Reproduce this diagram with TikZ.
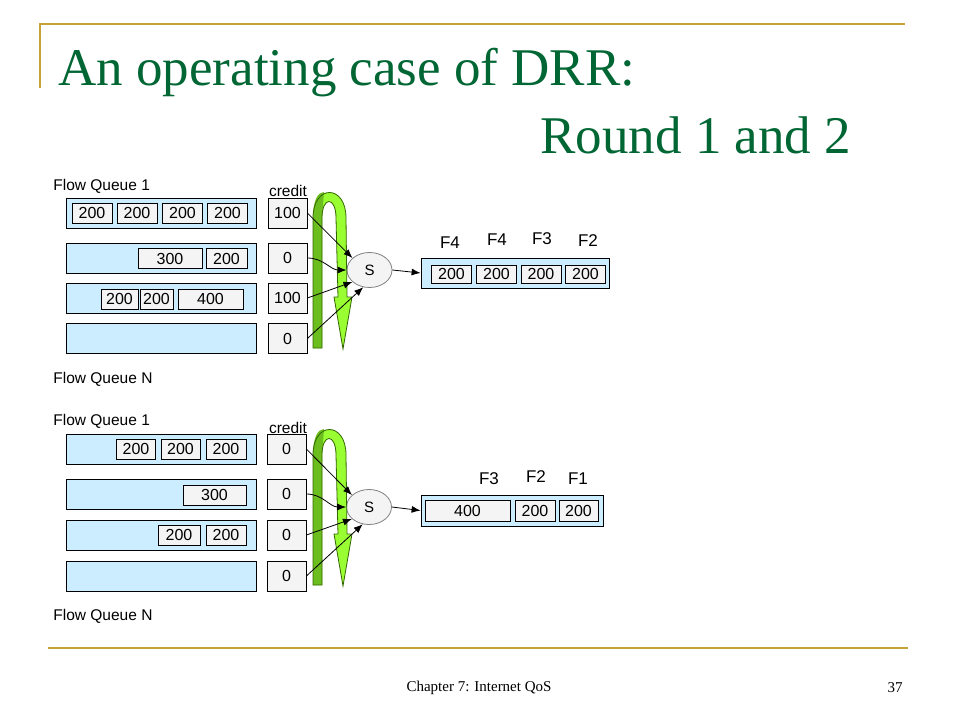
\documentclass[tikz,border=0pt]{standalone}
\usepackage{fontspec}
\setmainfont{Liberation Serif}
\setsansfont{Liberation Sans}
\usetikzlibrary{shapes.geometric,arrows.meta}

\definecolor{titlegreen}{RGB}{0,102,51}
\definecolor{gold}{RGB}{196,164,56}
\definecolor{qblue}{RGB}{204,236,255}
\definecolor{pktgray}{RGB}{244,244,244}
\definecolor{litegreen}{RGB}{153,255,51}
\definecolor{darkleg}{RGB}{108,190,30}
\definecolor{edgegreen}{RGB}{51,102,0}

\begin{document}
\begin{tikzpicture}[x=1pt,y=-1pt,line width=0.8pt,>={Latex[length=9pt,width=7pt]},
  queue/.style={draw,fill=qblue,minimum width=190pt,minimum height=30pt,inner sep=0pt},
  outq/.style={draw,fill=qblue,minimum height=30pt,inner sep=0pt},
  pkt/.style={draw,fill=pktgray,minimum height=20pt,inner sep=0pt,font=\sffamily\fontsize{16}{18}\selectfont},
  cred/.style={draw,fill=pktgray,minimum width=39pt,minimum height=30pt,inner sep=0pt,font=\sffamily\fontsize{16}{18}\selectfont},
  sched/.style={ellipse,draw=gray,fill=pktgray,minimum width=45pt,minimum height=35pt,inner sep=0pt,font=\sffamily\fontsize{15}{18}\selectfont},
  lbl/.style={inner sep=0pt,font=\sffamily\fontsize{15.5}{18}\selectfont},
  flab/.style={inner sep=0pt,font=\sffamily\fontsize{17}{20}\selectfont}]
  \useasboundingbox (0,0) rectangle (960,720);

  % slide frame
  \draw[gold,line width=2.5pt] (40,88) -- (40,24) -- (905,24);
  \draw[gold,line width=2.5pt] (48,648) -- (908,648);
  \node[anchor=base west,inner sep=0pt,text=titlegreen,font=\fontsize{53}{60}\selectfont] (t1) at (58,85) {An operating case of DRR:};
  \node[anchor=base west,inner sep=0pt,text=titlegreen,font=\fontsize{53}{60}\selectfont] (t2) at (540,153) {Round 1 and 2};
  \node[inner sep=0pt,font=\fontsize{15}{18}\selectfont] (foot) at (479,688) {Chapter 7: Internet QoS};
  \node[inner sep=0pt,font=\fontsize{15}{18}\selectfont] (page) at (895,688) {37};

  % round 1
  \node[lbl,anchor=west] (fq1a) at (53,186) {Flow Queue 1};
  \node[lbl,anchor=west] (fqNa) at (53,379) {Flow Queue N};
  \node[queue] (q1a) at (161.5,213) {};
  \node[queue] (q1b) at (161.5,258) {};
  \node[queue] (q1c) at (161.5,298) {};
  \node[queue] (q1d) at (161.5,338.5) {};
  \node[pkt,minimum width=40pt] (p1a1) at (92,213) {200};
  \node[pkt,minimum width=40pt] (p1a2) at (137,213) {200};
  \node[pkt,minimum width=40pt] (p1a3) at (182.5,213) {200};
  \node[pkt,minimum width=40pt] (p1a4) at (227.5,213) {200};
  \node[pkt,minimum width=64pt] (p1b1) at (170,258.5) {300};
  \node[pkt,minimum width=41pt] (p1b2) at (226.5,258.5) {200};
  \node[pkt,minimum width=37pt] (p1c1) at (119.5,299) {200};
  \node[pkt,minimum width=33pt] (p1c2) at (156.5,299) {200};
  \node[pkt,minimum width=65pt] (p1c3) at (210.5,299) {400};
  \node[lbl] (cr1) at (288,191) {credit};
  \node[cred] (k1a) at (287.5,213) {100};
  \node[cred] (k1b) at (287.5,258) {0};
  \node[cred] (k1c) at (287.5,298) {100};
  \node[cred] (k1d) at (287.5,338.5) {0};
  \node[sched] (s1) at (369.5,270) {S};
  \node[outq,minimum width=188pt] (o1) at (515,273) {};
  \node[pkt,minimum width=40pt,minimum height=18pt] (o1a) at (451.5,274) {200};
  \node[pkt,minimum width=40pt,minimum height=18pt] (o1b) at (496.5,274) {200};
  \node[pkt,minimum width=40pt,minimum height=18pt] (o1c) at (541,274) {200};
  \node[pkt,minimum width=40pt,minimum height=18pt] (o1d) at (585.5,274) {200};
  \node[flab] (f1a) at (450,243) {F4};
  \node[flab] (f1b) at (497,240) {F4};
  \node[flab] (f1c) at (542,239) {F3};
  \node[flab] (f1d) at (588,241) {F2};

  % round 2
  \node[lbl,anchor=west] (fq1b) at (53,421) {Flow Queue 1};
  \node[lbl,anchor=west] (fqNb) at (53,616) {Flow Queue N};
  \node[queue] (q2a) at (161.5,449) {};
  \node[queue] (q2b) at (161.5,494) {};
  \node[queue] (q2c) at (161.5,535) {};
  \node[queue] (q2d) at (161.5,576) {};
  \node[pkt,minimum width=39pt] (p2a1) at (136,449) {200};
  \node[pkt,minimum width=39pt] (p2a2) at (180.5,449) {200};
  \node[pkt,minimum width=40pt] (p2a3) at (226,449) {200};
  \node[pkt,minimum width=63pt] (p2b1) at (214.5,495) {300};
  \node[pkt,minimum width=42pt] (p2c1) at (179,535) {200};
  \node[pkt,minimum width=40pt] (p2c2) at (226,535) {200};
  \node[lbl] (cr2) at (288,428) {credit};
  \node[cred] (k2a) at (286.5,449) {0};
  \node[cred] (k2b) at (286.5,494) {0};
  \node[cred] (k2c) at (286.5,535) {0};
  \node[cred] (k2d) at (286.5,576) {0};
  \node[sched] (s2) at (369,507) {S};
  \node[outq,minimum width=182pt,minimum height=31pt] (o2) at (512,510.5) {};
  \node[pkt,minimum width=85pt,minimum height=21pt] (o2a) at (467.5,510.5) {400};
  \node[pkt,minimum width=40pt,minimum height=21pt] (o2b) at (535,510.5) {200};
  \node[pkt,minimum width=39pt,minimum height=21pt] (o2c) at (578.5,510.5) {200};
  \node[flab] (f2a) at (489,479) {F3};
  \node[flab] (f2b) at (536,477) {F2};
  \node[flab] (f2c) at (578,479) {F1};

  % round robin arrows
  \foreach \dy in {0,237} {
    \begin{scope}[shift={(0,\dy)}]
      \fill[litegreen] (313,348) -- (313,218) .. controls (313,184) and (346,184) .. (346,218)
        -- (347,297) -- (352,297) -- (343,349) -- (334,297) -- (338,297) -- (336,218)
        .. controls (336,196) and (322,196) .. (322,218) -- (322,348) -- cycle;
      \fill[darkleg] (313,348) -- (313,218) .. controls (313,200) and (318,192) .. (324,192)
        -- (322,218) -- (322,348) -- cycle;
      \draw[edgegreen] (313,348) -- (313,218) .. controls (313,184) and (346,184) .. (346,218)
        -- (347,297) -- (352,297) -- (343,349) -- (334,297) -- (338,297) -- (336,218)
        .. controls (336,196) and (322,196) .. (322,218) -- (322,348) -- cycle;
    \end{scope}
  }

  \draw[->] (k1a.east) -- (s1.145);
  \draw[->] (k1b.east) to[out=0,in=180] (s1.west);
  \draw[->] (k1c.east) -- (s1.215);
  \draw[->] (k1d.east) -- (s1.250);
  \draw[->] (s1.east) -- (o1.west);

  \draw[->] (k2a.east) -- (s2.145);
  \draw[->] (k2b.east) to[out=0,in=180] (s2.west);
  \draw[->] (k2c.east) -- (s2.215);
  \draw[->] (k2d.east) -- (s2.250);
  \draw[->] (s2.east) -- (o2.west);
\end{tikzpicture}
\end{document}
